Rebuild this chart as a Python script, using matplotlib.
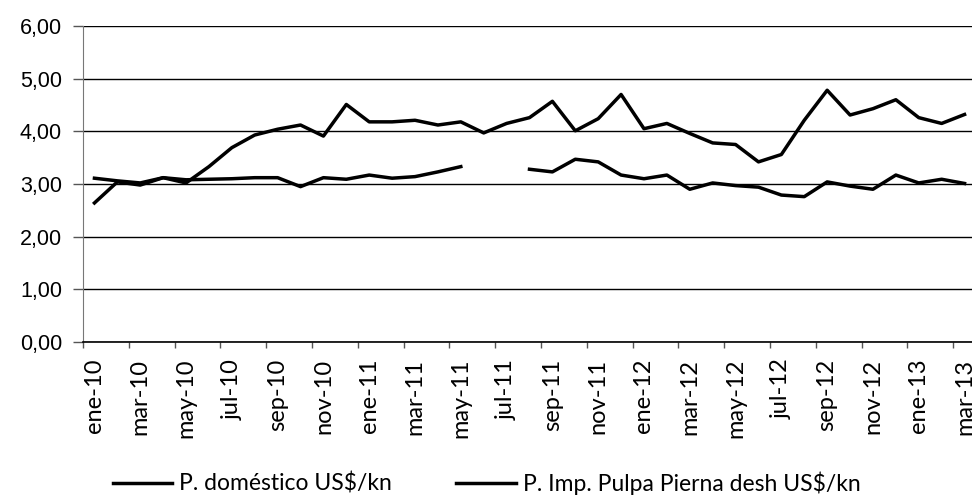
import numpy as np
import matplotlib.pyplot as plt

months = ["ene", "feb", "mar", "abr", "may", "jun", "jul", "ago", "sep", "oct", "nov", "dic"]
labels = [f"{m}-{y}" for y in ["10", "11", "12"] for m in months] + ["ene-13", "feb-13", "mar-13"]

domestico = [2.64, 3.04, 2.98, 3.12, 3.02, 3.33, 3.69, 3.93, 4.04, 4.12, 3.91, 4.51,
             4.18, 4.18, 4.21, 4.12, 4.18, 3.97, 4.15, 4.26, 4.57, 4.01, 4.24, 4.70,
             4.05, 4.15, 3.96, 3.78, 3.75, 3.42, 3.56, 4.21, 4.78, 4.31, 4.43, 4.60,
             4.26, 4.15, 4.32]
importado = [3.11, 3.06, 3.02, 3.12, 3.08, 3.09, 3.10, 3.12, 3.12, 2.95, 3.12, 3.09,
             3.17, 3.11, 3.14, 3.23, 3.33, np.nan, np.nan, 3.28, 3.23, 3.47, 3.42, 3.17,
             3.10, 3.17, 2.90, 3.02, 2.97, 2.94, 2.79, 2.76, 3.04, 2.96, 2.90, 3.17,
             3.02, 3.09, 3.01]

x = np.arange(len(labels))

fig = plt.figure(figsize=(9.72, 5.03), dpi=100)
ax = fig.add_axes([83 / 972, 1 - 342 / 503, 893 / 972, 316 / 503])

ax.plot(x, domestico, color="black", lw=2.5, label="P. doméstico US$/kn")
ax.plot(x, importado, color="black", lw=2.5, label="P. Imp. Pulpa Pierna desh US$/kn")

ax.set_xlim(-0.5, len(labels) - 0.5)
ax.set_ylim(0, 6)
ax.set_yticks(np.arange(0, 7, 1))
ax.set_yticklabels([f"{v:.2f}".replace(".", ",") for v in range(7)])
for t in ax.get_yticklabels():
    t.set_fontfamily("Liberation Sans")
    t.set_fontsize(15.5)
ax.grid(axis="y", color="black", lw=1)
ax.set_axisbelow(True)

# tick marks between categories, labels on categories
ax.set_xticks(np.arange(-0.5, len(labels), 2))
ax.set_xticklabels([])
ax.set_xticks(x[::2], minor=True)
ax.set_xticklabels(labels[::2], minor=True, rotation=90)
for t in ax.get_xticklabels(minor=True):
    t.set_fontfamily("Lato")
    t.set_fontsize(17)
ax.tick_params(axis="x", which="minor", length=0, pad=12)
ax.tick_params(axis="x", which="major", length=4, width=1, color="#555555")
ax.tick_params(axis="y", length=7.2, width=1, color="#555555", pad=8)

for s in ["top", "right"]:
    ax.spines[s].set_visible(False)
ax.spines["left"].set_color("#777777")
ax.spines["bottom"].set_color("black")
ax.spines["bottom"].set_linewidth(1.2)

fig.legend(loc="lower left", bbox_to_anchor=(92 / 972, -0.025), ncol=2, frameon=False,
           prop={"family": "Lato", "size": 16.5}, handlelength=2.6, columnspacing=2.8,
           handletextpad=0.3)

fig.savefig("out.png", dpi=100)
